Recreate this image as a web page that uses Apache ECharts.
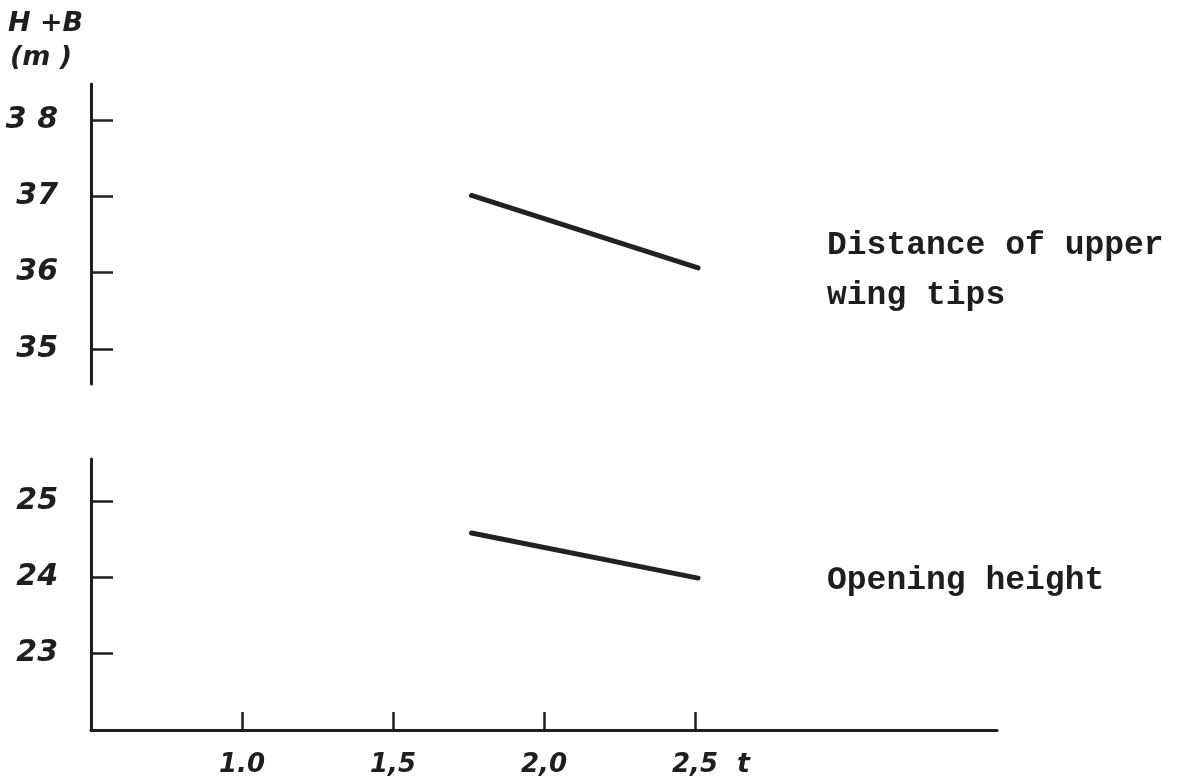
<!DOCTYPE html>
<html>
<head>
<meta charset="utf-8">
<script src="https://cdn.jsdelivr.net/npm/echarts@6/dist/echarts.min.js"></script>
<style>
html,body{margin:0;padding:0;background:#fff;}
#chart{width:1178px;height:781px;}
</style>
</head>
<body>
<div id="chart"></div>
<script>
// ---- data ----
const upperX = [1.76, 2.51];
const upperY = [37.01, 36.06];          // Distance of upper wing tips
const lowerX = [1.76, 2.51];
const lowerY = [24.58, 23.99];          // Opening height
const xTickValues = [1.0, 1.5, 2.0, 2.5];
const xTickLabels = ['1.0', '1,5', '2,0', '2,5'];
const yUpperTicks = [35, 36, 37, 38];
const yUpperLabels = ['35', '36', '37', '3 8'];
const yLowerTicks = [23, 24, 25];
const yLowerLabels = ['23', '24', '25'];
const upperName = ['Distance of upper', 'wing tips'];
const lowerName = 'Opening height';
const yTitle = ['H +B', '(m )'];
const xTitle = 't';

const zip = (xs, ys) => xs.map((x, i) => [x, ys[i]]);
const ink = '#1e1e1e';
const labelFont = {fontFamily: 'DejaVu Sans', fontStyle: 'italic', fontWeight: 'bold', color: ink};

const chart = echarts.init(document.getElementById('chart'));
chart.setOption({
  backgroundColor: '#fff',
  animation: false,
  grid: [
    {left: 91, right: 181, top: 84, height: 300},
    {left: 91, right: 181, top: 459, height: 271}
  ],
  xAxis: [
    {gridIndex: 0, type: 'value', min: 0.5, max: 3.5, show: false, splitLine: {show: false}},
    {gridIndex: 1, type: 'value', min: 0.5, max: 3.5,
      axisLine: {show: true, lineStyle: {color: ink, width: 3}},
      axisTick: {show: true, inside: true, length: 18, customValues: xTickValues, lineStyle: {color: ink, width: 2.5}},
      axisLabel: Object.assign({show: true, fontSize: 26, margin: 22, customValues: xTickValues,
        formatter: v => { const i = xTickValues.findIndex(t => Math.abs(t - v) < 1e-6); return i >= 0 ? xTickLabels[i] : ''; }}, labelFont),
      splitLine: {show: false}}
  ],
  yAxis: [
    {gridIndex: 0, type: 'value', min: 34.54, max: 38.47,
      axisLine: {show: true, lineStyle: {color: ink, width: 3}},
      axisTick: {show: true, inside: true, length: 22, customValues: yUpperTicks, lineStyle: {color: ink, width: 2.5}},
      axisLabel: Object.assign({show: true, fontSize: 30, margin: 33, customValues: yUpperTicks,
        formatter: v => { const i = yUpperTicks.indexOf(Math.round(v)); return i >= 0 ? yUpperLabels[i] : ''; }}, labelFont),
      splitLine: {show: false}},
    {gridIndex: 1, type: 'value', min: 22, max: 25.55,
      axisLine: {show: true, lineStyle: {color: ink, width: 3}},
      axisTick: {show: true, inside: true, length: 22, customValues: yLowerTicks, lineStyle: {color: ink, width: 2.5}},
      axisLabel: Object.assign({show: true, fontSize: 30, margin: 33, customValues: yLowerTicks,
        formatter: v => { const i = yLowerTicks.indexOf(Math.round(v)); return i >= 0 ? yLowerLabels[i] : ''; }}, labelFont),
      splitLine: {show: false}}
  ],
  series: [
    {type: 'line', xAxisIndex: 0, yAxisIndex: 0, data: zip(upperX, upperY), symbol: 'none',
      lineStyle: {color: '#222', width: 5, cap: 'round'}},
    {type: 'line', xAxisIndex: 1, yAxisIndex: 1, data: zip(lowerX, lowerY), symbol: 'none',
      lineStyle: {color: '#222', width: 5, cap: 'round'}}
  ],
  graphic: [
    {type: 'text', left: 8, top: 10, style: {text: yTitle[0], fontSize: 27, fill: ink, fontFamily: 'DejaVu Sans', fontStyle: 'italic', fontWeight: 'bold'}},
    {type: 'text', left: 10, top: 44, style: {text: yTitle[1], fontSize: 27, fill: ink, fontFamily: 'DejaVu Sans', fontStyle: 'italic', fontWeight: 'bold'}},
    {type: 'text', left: 737, top: 751, style: {text: xTitle, fontSize: 27, fill: ink, fontFamily: 'DejaVu Sans', fontStyle: 'italic', fontWeight: 'bold'}},
    {type: 'text', left: 827, top: 229, style: {text: upperName[0], fontSize: 33, fill: ink, fontFamily: 'Liberation Mono', fontWeight: 'bold'}},
    {type: 'text', left: 827, top: 279, style: {text: upperName[1], fontSize: 33, fill: ink, fontFamily: 'Liberation Mono', fontWeight: 'bold'}},
    {type: 'text', left: 827, top: 564, style: {text: lowerName, fontSize: 33, fill: ink, fontFamily: 'Liberation Mono', fontWeight: 'bold'}}
  ]
});
</script>
</body>
</html>
